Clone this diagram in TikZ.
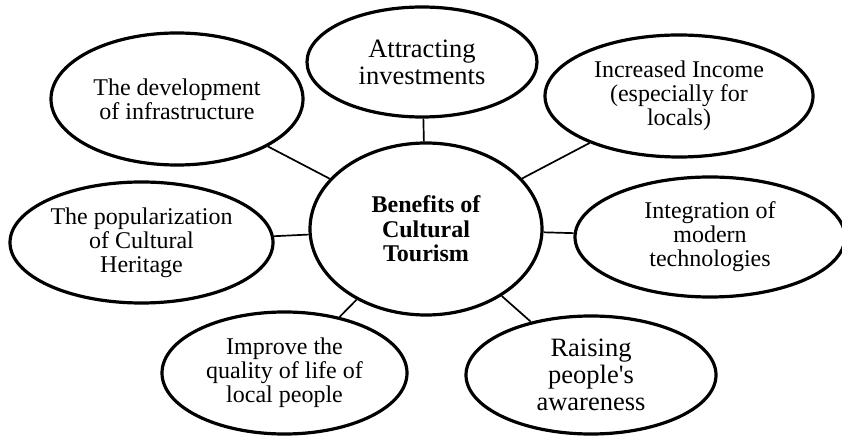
\documentclass[tikz,border=0pt]{standalone}
\usepackage{fontspec}
\setmainfont{Liberation Serif}
\usetikzlibrary{shapes.geometric}
\begin{document}
\begin{tikzpicture}[x=1pt,y=1pt,
  bubble/.style={ellipse,draw=black,line width=3.2pt,inner sep=0pt,align=center,
    font=\fontsize{24}{24}\selectfont},
  bigtext/.style={font=\fontsize{26.5}{27}\selectfont},
  link/.style={line width=1.7pt}]
\useasboundingbox (0,0) rectangle (842,436);
\begin{scope}
\clip (0,0) rectangle (842,436);
\node[bubble,minimum width=232,minimum height=172,
  font=\fontsize{24}{24.5}\selectfont\bfseries] (c) at (426,207) {Benefits of\\Cultural\\Tourism};
\node[bubble,bigtext,minimum width=230,minimum height=110] (att) at (422,374) {Attracting\\investments};
\node[bubble,minimum width=252,minimum height=132] (inf) at (177,337) {The development\\of infrastructure};
\node[bubble,minimum width=268,minimum height=122] (inc) at (679,340) {Increased Income\\(especially for\\locals)};
\node[bubble,minimum width=263,minimum height=121] (pop) at (141.5,193.5) {The popularization\\of Cultural\\Heritage};
\node[bubble,minimum width=270,minimum height=120] (int) at (710,199) {Integration of\\modern\\technologies};
\node[bubble,minimum width=245,minimum height=122] (imp) at (284.5,63) {Improve the\\quality of life of\\local people};
\node[bubble,bigtext,minimum width=250,minimum height=118] (rai) at (591,61) {Raising\\people\textquotesingle s\\awareness};
\foreach \n in {att,inf,inc,pop,int,imp,rai}
  \draw[link] (c) -- (\n);
\end{scope}
\end{tikzpicture}
\end{document}
